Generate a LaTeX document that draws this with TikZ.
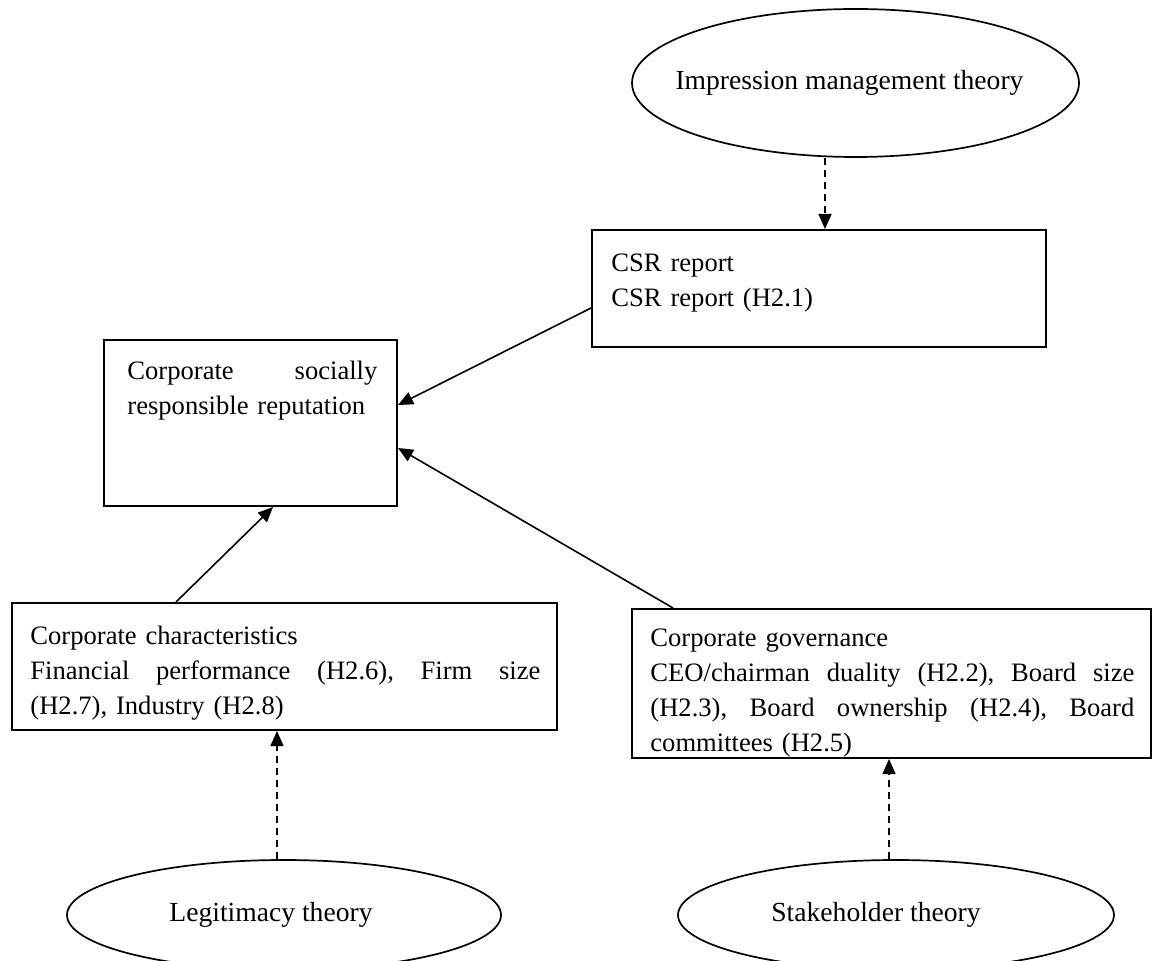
\documentclass[tikz,border=0pt]{standalone}
\usepackage{fontspec}
\setmainfont{Liberation Serif}
\usetikzlibrary{shapes.geometric,arrows.meta}

\tikzset{
  boxnode/.style={draw, rectangle, line width=1pt, inner sep=0pt},
  theory/.style={draw, ellipse, line width=0.85pt, inner sep=0pt,
                 font=\fontsize{13.8}{16}\selectfont},
  boxtext/.style={inner sep=0pt, anchor=north west, align=left,
                  font=\fontsize{13.3}{17.5}\selectfont},
  link/.style={line width=0.8pt, -{Triangle[length=7.5pt,width=6.5pt]}},
  dashlink/.style={link, dash pattern=on 3.5pt off 2.5pt},
}
% a justified line of given width: words spread evenly
\newcommand{\fullline}[2]{\makebox[#1][s]{\strut #2}}
% ellipse label that does not widen the ellipse; #1 moves it left
\newcommand{\theorylabel}[2]{\raisebox{-1.5pt}{\makebox[0pt]{#2\hspace{#1}}}}

\begin{document}
\begin{tikzpicture}[x=0.5pt, y=-0.5pt]
  \useasboundingbox (0,0) rectangle (1155,961);

  % theories
  \node[theory, minimum width=223.5pt, minimum height=74pt] (imt) at (855.5,83)
    {\theorylabel{6pt}{Impression management theory}};
  \node[theory, minimum width=217pt, minimum height=55pt] (leg) at (284,915)
    {\theorylabel{13pt}{Legitimacy theory}};
  \node[theory, minimum width=218pt, minimum height=55pt] (stk) at (896,915)
    {\theorylabel{20pt}{Stakeholder theory}};

  % boxes
  \node[boxnode, minimum width=227pt, minimum height=58.5pt] (csr) at (819,288.5) {};
  \node[boxnode, minimum width=146.5pt, minimum height=83pt] (csrr) at (250.5,423) {};
  \node[boxnode, minimum width=272.5pt, minimum height=63.5pt] (chr) at (284.5,666.5) {};
  \node[boxnode, minimum width=259.5pt, minimum height=74.5pt] (gov) at (891.5,683.5) {};

  % box contents
  \node[boxtext, text width=200pt] (csrtxt) at (611,246.5)
    {\strut CSR report\\\strut CSR report (H2.1)};
  \node[boxtext, text width=125pt] (csrrtxt) at (127,354.5)
    {\fullline{125pt}{Corporate\hfill socially}\\\strut responsible reputation};
  \node[boxtext, text width=255pt] (chrtxt) at (30,619.5)
    {\strut Corporate characteristics\\
     \fullline{255pt}{Financial\hfill performance\hfill (H2.6),\hfill Firm\hfill size}\\
     \strut (H2.7), Industry (H2.8)};
  \node[boxtext, text width=242pt] (govtxt) at (650,621.5)
    {\strut Corporate governance\\
     \fullline{242pt}{CEO/chairman\hfill duality\hfill (H2.2),\hfill Board\hfill size}\\
     \fullline{242pt}{(H2.3),\hfill Board\hfill ownership\hfill (H2.4),\hfill Board}\\
     \strut committees (H2.5)};

  % theory links
  \draw[dashlink] ([xshift=-15.25pt]imt.south) -- ([xshift=3pt]csr.north);
  \draw[dashlink] ([xshift=-3.5pt]leg.north) -- ([xshift=-3.75pt]chr.south);
  \draw[dashlink] ([xshift=-3.5pt]stk.north) -- ([xshift=-1.25pt]gov.south);

  % determinants of reputation
  \draw[link] ([yshift=-9.75pt]csr.west) -- ([yshift=9pt]csrr.east);
  \draw[link] ([xshift=-54.25pt]chr.north) -- ([xshift=11.25pt]csrr.south);
  \draw[link] ([xshift=-109.25pt]gov.north) -- ([yshift=-12.5pt]csrr.east);
\end{tikzpicture}
\end{document}
